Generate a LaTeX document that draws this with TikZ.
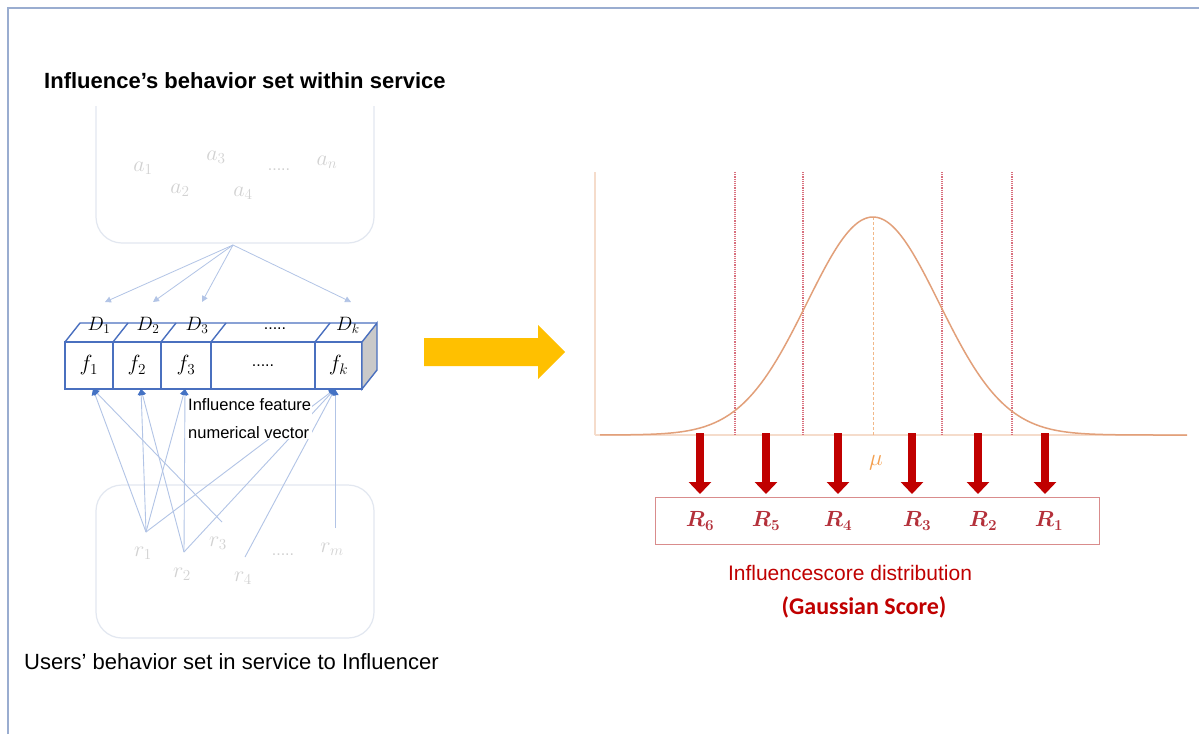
\documentclass[tikz,border=0pt]{standalone}
\usepackage{graphicx}
\usepackage{fontspec}
\usepackage{amsmath}
\setmainfont{Liberation Sans}
\newfontfamily\calib{Carlito}
\usetikzlibrary{arrows.meta}

% math labels set at 17.28pt and enlarged
\newcommand{\mlbl}[2][1.27]{\scalebox{#1}{\fontsize{17.28}{18}\selectfont$#2$}}

\definecolor{framec}{HTML}{9AADD0}
\definecolor{cellc}{HTML}{4A70BF}
\definecolor{faint}{HTML}{E2E7F0}
\definecolor{faintlbl}{HTML}{D2D2D2}
\definecolor{linkc}{HTML}{B2C4E6}
\definecolor{headc}{HTML}{4472C4}
\definecolor{axisc}{HTML}{F5DCCB}
\definecolor{curvec}{HTML}{E2A07A}
\definecolor{dotc}{HTML}{D9707E}
\definecolor{meanc}{HTML}{F2B888}
\definecolor{darkred}{HTML}{C00000}
\definecolor{rboxc}{HTML}{D98C8C}
\definecolor{rlbl}{HTML}{B4303A}
\definecolor{muc}{HTML}{F4A050}
\definecolor{goldc}{HTML}{FFC000}
\definecolor{sidec}{HTML}{C9C9C9}

\tikzset{
  every node/.style={inner sep=0pt},
  setbox/.style={draw=faint, line width=1.2, rounded corners=26},
  alabel/.style={text=faintlbl},
  dots/.style={font=\fontsize{16}{16}\selectfont},
  cellline/.style={draw=cellc, line width=1.4},
  cell/.style={cellline, minimum height=47},
  toplink/.style={draw=linkc, line width=0.8, -{Triangle[length=6,width=6,color=linkc]}},
  link/.style={draw=linkc, line width=0.9, -{Triangle[length=6,width=7,color=headc]}},
  scorearrow/.style={draw=darkred, line width=8, -{Triangle[length=12,width=22]}},
  rlabel/.style={text=rlbl},
  bound/.style={draw=dotc, densely dotted, line width=1.2},
}

\begin{document}
\begin{tikzpicture}[x=1pt,y=-1pt]
\useasboundingbox (0,0) rectangle (1199,734);
\fill[white] (0,0) rectangle (1199,734);

% outer frame
\draw[framec, line width=2.5] (8,734) -- (8,8) -- (1199,8);

% ---------- behaviour set within the service ----------
\draw[setbox] (96,106) -- (96,243) -- (374,243) -- (374,106);
\node[alabel] (a1) at (143,168) {\mlbl{a_1}};
\node[alabel] (a2) at (180,190) {\mlbl{a_2}};
\node[alabel] (a3) at (216,157) {\mlbl{a_3}};
\node[alabel] (a4) at (243,193) {\mlbl{a_4}};
\node[alabel, dots] (adots) at (279,170) {.....};
\node[alabel] (an) at (327,162) {\mlbl{a_n}};

\node[anchor=base west, font=\bfseries\fontsize{22}{26}\selectfont] (title) at (44,88)
  {Influence’s behavior set within service};

% ---------- feature vector ----------
\node[cell, minimum width=48] (c1) at (89,365.5) {\mlbl{f_1}};
\node[cell, minimum width=48] (c2) at (137,365.5) {\mlbl{f_2}};
\node[cell, minimum width=50] (c3) at (186,365.5) {\mlbl{f_3}};
\node[cell, minimum width=104, dots] (c4) at (263,365.5) {.....};
\node[cell, minimum width=47] (ck) at (338.5,365.5) {\mlbl{f_k}};
% top face and side face
\draw[cellline] (65,342) -- (80,323) -- (377,323);
\foreach \x in {113,161,211,315} \draw[cellline] (\x,342) -- (\x+15,323);
\filldraw[cellline, fill=sidec] (362,342) -- (377,323) -- (377,370) -- (362,389) -- cycle;

\node (d1) at (99,325) {\mlbl[1.12]{D_1}};
\node (d2) at (148,325) {\mlbl[1.12]{D_2}};
\node (d3) at (197,325) {\mlbl[1.12]{D_3}};
\node[dots] (ddots) at (275,329) {.....};
\node (dk) at (348,325) {\mlbl[1.12]{D_k}};

% links from the behaviour set to the dimensions
\coordinate (apex) at (233,245);
\coordinate (t1) at (105,302);
\coordinate (t2) at (153,302);
\coordinate (t3) at (202,302);
\coordinate (tk) at (351,302);
\foreach \t in {t1,t2,t3,tk} \draw[toplink] (apex) -- (\t);

% ---------- users' behaviour set ----------
\draw[setbox] (96,485) rectangle (374,638);
\node[alabel] (r1) at (143,553) {\mlbl{r_1}};
\node[alabel] (r2) at (182,574) {\mlbl{r_2}};
\node[alabel] (r3) at (218,543) {\mlbl{r_3}};
\node[alabel] (r4) at (243,578) {\mlbl{r_4}};
\node[alabel, dots] (rdots) at (283,555) {.....};
\node[alabel] (rm) at (332,549) {\mlbl{r_m}};

\coordinate (p1) at (146,532);
\coordinate (p2) at (184,552);
\coordinate (p3) at (222,522);
\coordinate (p4) at (245,557);
\coordinate (pm) at (335,528);
\coordinate (f1in) at (93,389);
\coordinate (f2in) at (141,389);
\coordinate (f3in) at (185,389);
\coordinate (fkin) at (335,389);

\draw[link] (p1) -- (f1in);
\draw[link] (p3) -- (f1in);
\draw[link] (p1) -- (f2in);
\draw[link] (p2) -- (f2in);
\draw[link] (p1) -- (f3in);
\draw[link] (p2) -- (f3in);
\draw[link] (pm) -- (fkin);
\draw[link] (p1) -- (fkin);
\draw[link] (p2) -- (fkin);
\draw[link] (p4) -- (fkin);

\node[fill=white, anchor=north west, align=left, inner sep=1,
      font=\fontsize{16.5}{28}\selectfont] (vtext) at (187,397)
  {Influence feature\\numerical vector};

\node[anchor=base west, font=\fontsize{22}{26}\selectfont] (users) at (24,669)
  {Users’ behavior set in service to Influencer};

% ---------- transition arrow ----------
\fill[goldc] (424,338) -- (538,338) -- (538,325) -- (565,352) -- (538,379)
  -- (538,366) -- (424,366) -- cycle;

% ---------- Gaussian score distribution ----------
\draw[axisc, line width=1.5] (595,172) -- (595,435);
\draw[axisc, line width=2.5] (595,435) -- (1187,435);
\foreach \x in {735,803,942,1012} \draw[bound] (\x,172) -- (\x,435);
\draw[meanc, dash pattern=on 3pt off 2pt, line width=1] (873,217) -- (873,435);
\draw[curvec, line width=1.5, domain=600:1187, samples=160, smooth]
  plot (\x, {435 - 218*exp(-0.5*((\x-873)/66)^2)});

\node[text=muc] (mu) at (876,463) {\mlbl[1.35]{\mu}};

\node[draw=rboxc, line width=1, minimum width=444, minimum height=47] (rbox) at (877,520.5) {};
\node[rlabel] (R6) at (700,521) {\mlbl{\boldsymbol{R}_{\boldsymbol{6}}}};
\node[rlabel] (R5) at (766,521) {\mlbl{\boldsymbol{R}_{\boldsymbol{5}}}};
\node[rlabel] (R4) at (838,521) {\mlbl{\boldsymbol{R}_{\boldsymbol{4}}}};
\node[rlabel] (R3) at (917,521) {\mlbl{\boldsymbol{R}_{\boldsymbol{3}}}};
\node[rlabel] (R2) at (983,521) {\mlbl{\boldsymbol{R}_{\boldsymbol{2}}}};
\node[rlabel] (R1) at (1049,521) {\mlbl{\boldsymbol{R}_{\boldsymbol{1}}}};

\foreach \x [count=\i] in {700,766,838,912,978,1045} {
  \coordinate (s\i) at (\x,433);
  \coordinate (e\i) at (\x,494);
  \draw[scorearrow] (s\i) -- (e\i);
}

\node[anchor=base, text=darkred, font=\fontsize{21}{24}\selectfont] (dist) at (850,580)
  {Influencescore distribution};
\node[anchor=base, text=darkred, font=\calib\bfseries\fontsize{24}{28}\selectfont] (gauss) at (864,614)
  {(Gaussian Score)};
\end{tikzpicture}
\end{document}
